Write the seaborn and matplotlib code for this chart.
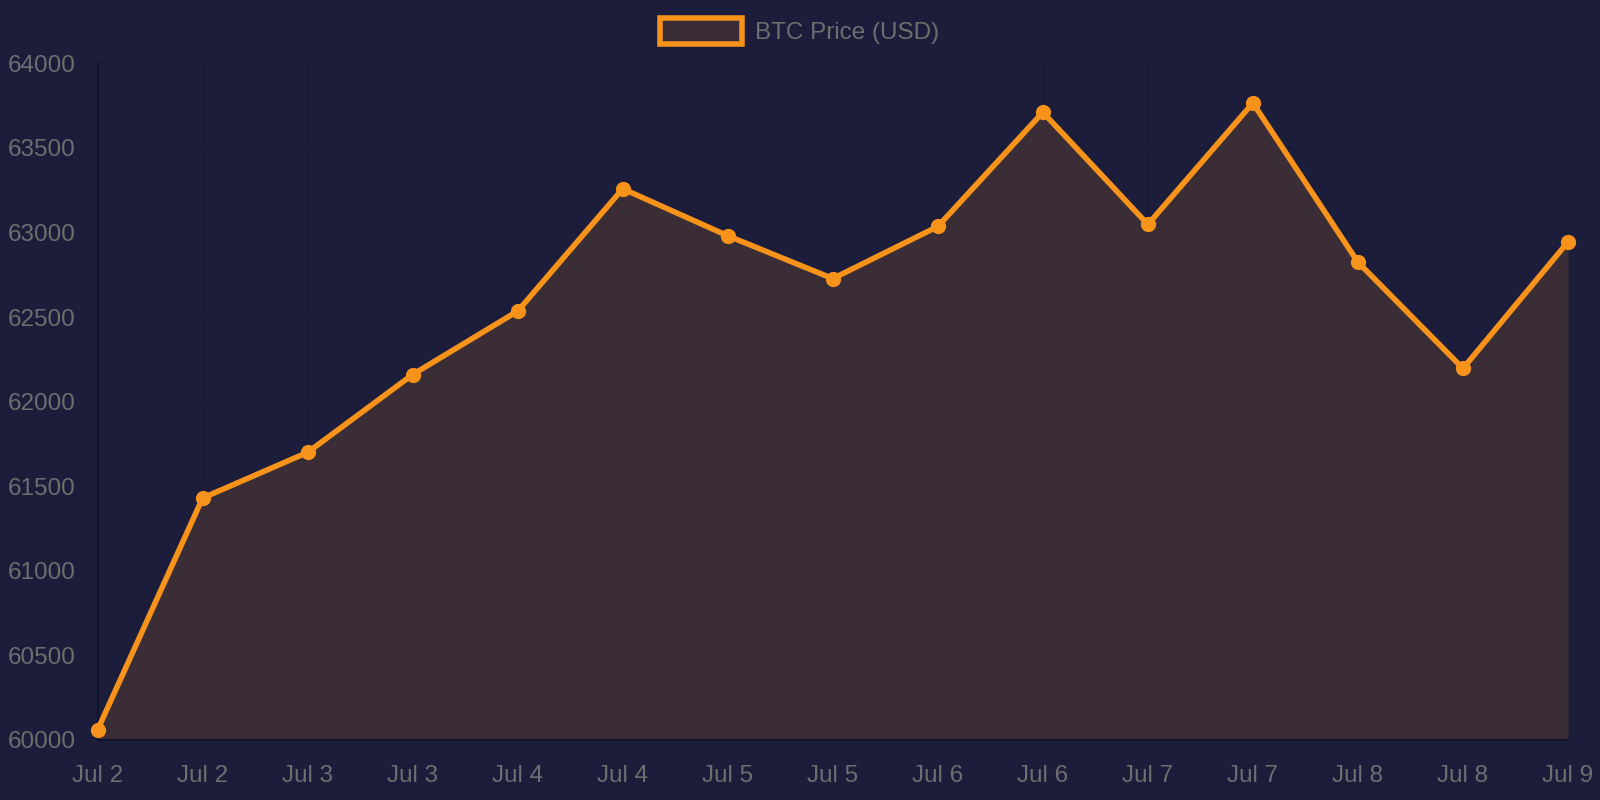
import numpy as np
import pandas as pd
import seaborn as sns
import matplotlib.pyplot as plt
from matplotlib.patches import Patch

# data
labels = ["Jul 2", "Jul 2", "Jul 3", "Jul 3", "Jul 4", "Jul 4", "Jul 5", "Jul 5",
          "Jul 6", "Jul 6", "Jul 7", "Jul 7", "Jul 8", "Jul 8", "Jul 9"]
price = [60060, 61430, 61700, 62160, 62535, 63258, 62980, 62727,
         63035, 63710, 63047, 63765, 62824, 62196, 62944]

bg = "#1b1d3b"
orange = "#f7931a"
fill_col = "#3a2d35"
text_col = "#6e6e6e"
grid_col = "#181a35"

sns.set_theme(style="dark")
plt.rcParams['font.family'] = ['Liberation Sans', 'DejaVu Sans']

df = pd.DataFrame({'idx': np.arange(len(price)), 'price': price})

fig = plt.figure(figsize=(16, 8), dpi=100, facecolor=bg)
ax = fig.add_axes([0.061, 0.075, 0.919, 0.846])
ax.set_facecolor(bg)

ax.fill_between(df['idx'], df['price'], 60000, color=fill_col, zorder=1, linewidth=0)
sns.lineplot(data=df, x='idx', y='price', ax=ax, color=orange, linewidth=4,
             marker='o', markersize=11, markeredgewidth=0, zorder=3, clip_on=False)

ax.set_xlim(0, len(price) - 1)
ax.set_ylim(60000, 64000)
ax.set_xticks(df['idx'])
ax.set_xticklabels(labels)
ax.set_yticks(np.arange(60000, 64001, 500))
ax.set_xlabel('')
ax.set_ylabel('')

ax.grid(True, color=grid_col, linewidth=1)
ax.set_axisbelow(True)
ax.tick_params(axis='both', colors=text_col, labelsize=17.5, length=8, width=1,
               color=grid_col, pad=8)
ax.tick_params(axis='x', pad=10)
for name, sp in ax.spines.items():
    sp.set_visible(name in ('left', 'bottom'))
    sp.set_color('#12142b')
    sp.set_linewidth(1.5)

handle = Patch(facecolor=fill_col, edgecolor=orange, linewidth=4)
fig.legend(handles=[handle], labels=['BTC Price (USD)'], loc='center',
           bbox_to_anchor=(0.4995, 0.961), frameon=False, fontsize=17.5,
           labelcolor=text_col, handlelength=3.4, handleheight=1.3,
           handletextpad=0.5)

plt.savefig('out.png', dpi=100, facecolor=bg)
